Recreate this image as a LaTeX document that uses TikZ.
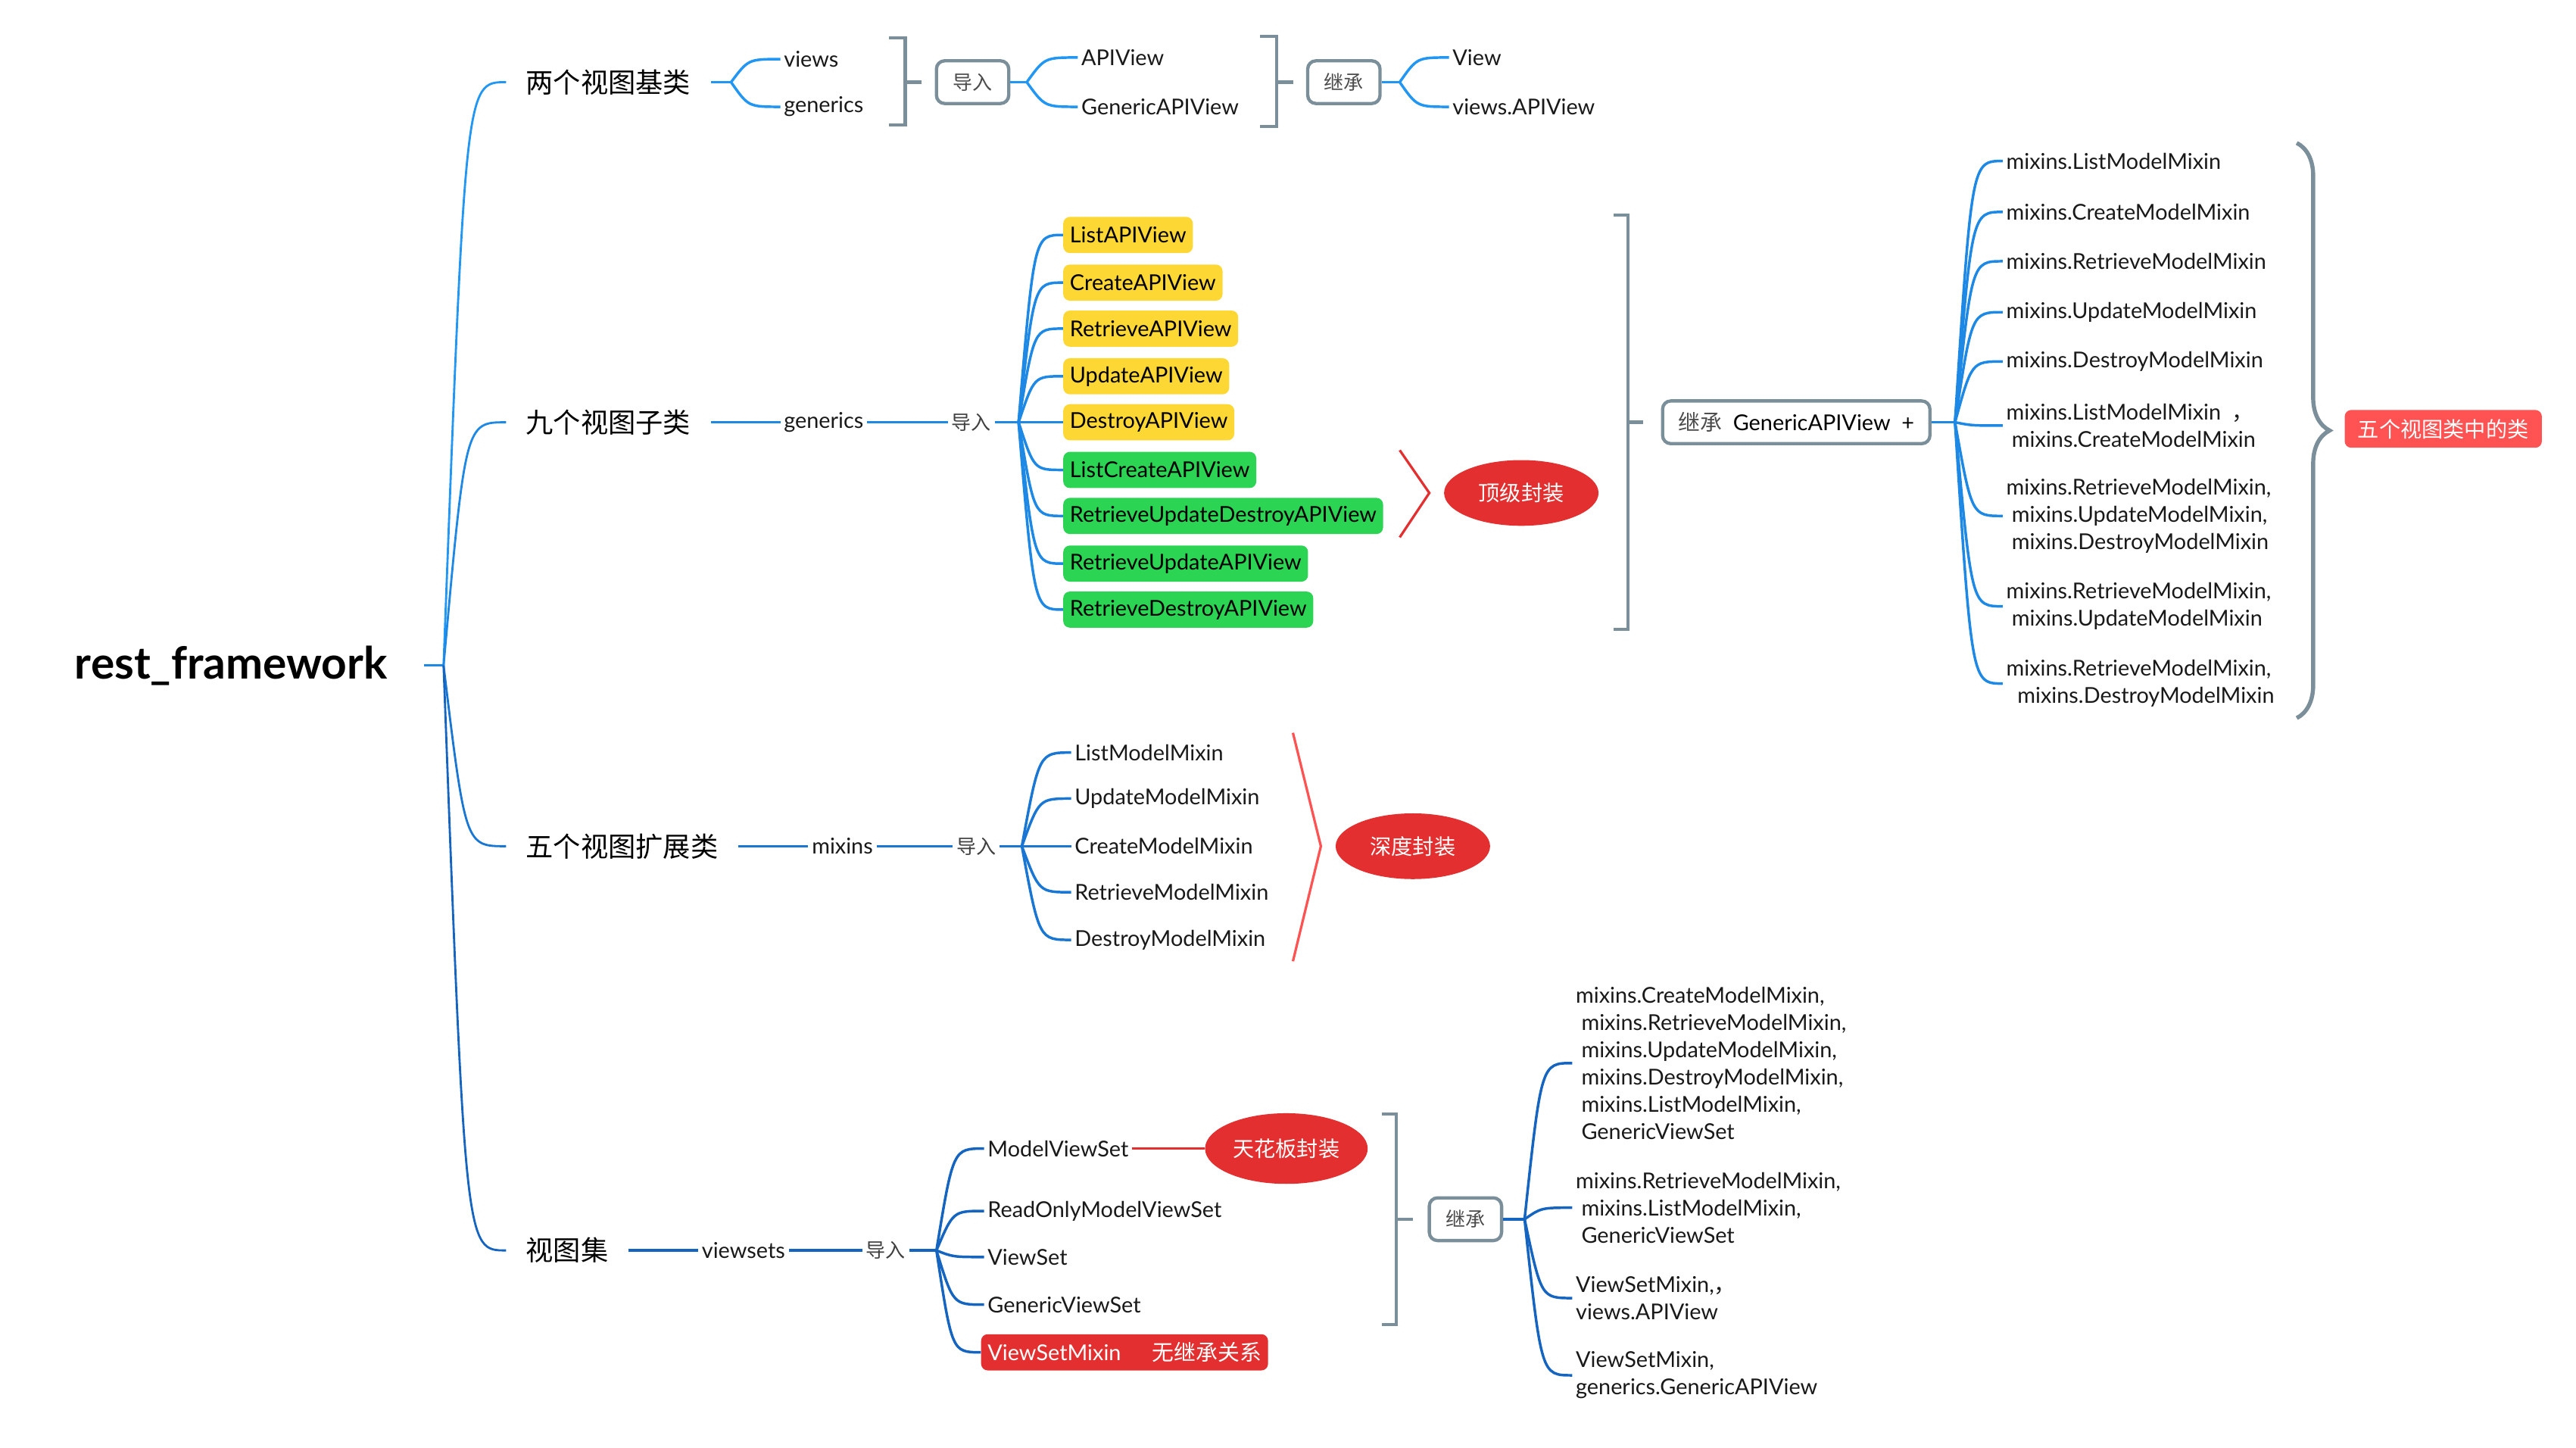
\documentclass[tikz,border=0pt]{standalone}
\usepackage{fontspec}
\setmainfont{Lato}
\newfontfamily\cjk{Noto Sans CJK SC}
\usepackage{tikz}
\usetikzlibrary{calc,shapes.geometric,decorations.pathreplacing}
\definecolor{mmblueA}{HTML}{2196F3}
\definecolor{mmblueB}{HTML}{1E88E5}
\definecolor{mmblueC}{HTML}{1976D2}
\definecolor{mmblueD}{HTML}{1565C0}
\definecolor{mmgray}{HTML}{7B8F9A}
\definecolor{mmred}{HTML}{E32F2F}
\definecolor{mmredlight}{HTML}{FF5252}
\definecolor{mmyellow}{HTML}{FDD835}
\definecolor{mmgreen}{HTML}{2BD453}
\tikzset{
  mmroot/.style={anchor=east, inner xsep=22pt, inner ysep=2pt, font=\fontsize{27}{31}\selectfont\bfseries},
  mmtopic/.style={anchor=west, inner xsep=12pt, inner ysep=2pt, font=\cjk\fontsize{16.7}{20}\selectfont},
  mmleaf/.style={anchor=west, inner xsep=2pt, inner ysep=1pt, align=left, text=black!90, font=\fontsize{13.3}{16.6}\selectfont},
  mmtag/.style={anchor=west, inner xsep=2pt, inner ysep=1pt, text=black!75, font=\cjk\fontsize{12}{14}\selectfont},
  mmbox/.style={draw=mmgray, line width=2pt, rounded corners=5pt, minimum width=44pt, minimum height=26pt, inner sep=0pt, text=black!70, font=\cjk\fontsize{12}{14}\selectfont},
  mmhl/.style={anchor=west, rounded corners=4pt, minimum height=22pt, inner xsep=4pt, inner ysep=0pt, font=\fontsize{13.3}{16}\selectfont},
  mmseal/.style={ellipse, fill=mmred, text=white, minimum width=94pt, minimum height=40pt, inner sep=0pt, font=\cjk\fontsize{13}{15}\selectfont},
  fan/.style={to path={let \p1=(\tikztostart), \p2=(\tikztotarget) in .. controls ({\x1+0.35*(\x2-\x1)},\y2) .. (\tikztotarget)}},
  mmstem/.style={line width=1.3pt},
  lineA/.style={line width=1.6pt, draw=mmblueA},
  lineB/.style={line width=1.6pt, draw=mmblueB},
  lineC/.style={line width=1.6pt, draw=mmblueC},
  lineD/.style={line width=1.6pt, draw=mmblueD},
  mmbrk/.style={draw=mmgray, line width=2pt},
  mmchev/.style={line width=1.5pt},
}
\begin{document}
\begin{tikzpicture}[x=1pt, y=-1pt]
\useasboundingbox (0,0) rectangle (1568,881);
\node[mmroot] (root) at (258,405) {rest\_framework};
\coordinate (rootj) at (270,405);
\node[mmtopic] (base) at (308,50) {两个视图基类};
\node[mmtopic] (nine) at (308,257) {九个视图子类};
\node[mmtopic] (ext) at (308,515) {五个视图扩展类};
\node[mmtopic] (vset) at (308,761) {视图集};
\draw[mmstem, draw=mmblueB] (root.east) -- (rootj);
\draw[mmstem, draw=mmblueA] (rootj) to[fan] (base.west);
\draw[mmstem, draw=mmblueB] (rootj) to[fan] (nine.west);
\draw[mmstem, draw=mmblueC] (rootj) to[fan] (ext.west);
\draw[mmstem, draw=mmblueD] (rootj) to[fan] (vset.west);

\coordinate (basej) at (445,50);
\node[mmleaf] (views) at (475,36) {views};
\node[mmleaf] (generics) at (475,65) {generics};
\draw[lineA] (base.east) -- (basej);
\draw[lineA] (basej) to[fan] (views.west);
\draw[lineA] (basej) to[fan] (generics.west);
\draw[mmbrk] (541,23) -- (551,23) -- (551,76) -- (541,76) (551,50) -- (561,50);
\node[mmbox] (imp1) at (592,50) {导入};
\coordinate (imp1j) at (625,50);
\node[mmleaf] (apiview) at (656,35) {APIView};
\node[mmleaf] (genapi) at (656,65) {GenericAPIView};
\draw[lineA] (imp1.east) -- (imp1j);
\draw[lineA] (imp1j) to[fan] (apiview.west);
\draw[lineA] (imp1j) to[fan] (genapi.west);
\draw[mmbrk] (767,22) -- (777,22) -- (777,77) -- (767,77) (777,50) -- (787,50);
\node[mmbox] (inh1) at (818,50) {继承};
\coordinate (inh1j) at (852,50);
\node[mmleaf] (view) at (882,35) {View};
\node[mmleaf] (vapi) at (882,65) {views.APIView};
\draw[lineA] (inh1.east) -- (inh1j);
\draw[lineA] (inh1j) to[fan] (view.west);
\draw[lineA] (inh1j) to[fan] (vapi.west);

\node[mmleaf] (gen2) at (475,257) {generics};
\node[mmtag] (imp2) at (577,257) {导入};
\coordinate (imp2j) at (620,257);
\draw[lineB] (nine.east) -- (gen2.west) (gen2.east) -- (imp2.west) (imp2.east) -- (imp2j);
\node[mmhl, fill=mmyellow] (listapi) at (647,143) {ListAPIView};
\node[mmhl, fill=mmyellow] (createapi) at (647,172) {CreateAPIView};
\node[mmhl, fill=mmyellow] (retrapi) at (647,200) {RetrieveAPIView};
\node[mmhl, fill=mmyellow] (updapi) at (647,229) {UpdateAPIView};
\node[mmhl, fill=mmyellow] (destapi) at (647,257) {DestroyAPIView};
\node[mmhl, fill=mmgreen] (lcapi) at (647,286) {ListCreateAPIView};
\node[mmhl, fill=mmgreen] (rudapi) at (647,314) {RetrieveUpdateDestroyAPIView};
\node[mmhl, fill=mmgreen] (ruapi) at (647,343) {RetrieveUpdateAPIView};
\node[mmhl, fill=mmgreen] (rdapi) at (647,371) {RetrieveDestroyAPIView};
\draw[lineB] (imp2j) to[fan] (listapi.west);
\draw[lineB] (imp2j) to[fan] (createapi.west);
\draw[lineB] (imp2j) to[fan] (retrapi.west);
\draw[lineB] (imp2j) to[fan] (updapi.west);
\draw[lineB] (imp2j) to[fan] (destapi.west);
\draw[lineB] (imp2j) to[fan] (lcapi.west);
\draw[lineB] (imp2j) to[fan] (rudapi.west);
\draw[lineB] (imp2j) to[fan] (ruapi.west);
\draw[lineB] (imp2j) to[fan] (rdapi.west);
\draw[mmchev, draw=mmred] (852,274) -- (870,300) -- (852,327);
\node[mmseal] (topseal) at (926,300) {顶级封装};
\draw[mmbrk] (982,131) -- (991,131) -- (991,383) -- (982,383) (991,257) -- (1000,257);
\node[mmbox, anchor=west, inner xsep=9.5pt, text=black, font=\fontsize{13.3}{15}\selectfont] (inh2) at (1011,257) {{\cjk\color{black!70}继承}\ \ GenericAPIView\ \ +};
\coordinate (inh2j) at (1190,257);
\node[mmleaf] (mixA) at (1219,98) {mixins.ListModelMixin};
\node[mmleaf] (mixB) at (1219,129) {mixins.CreateModelMixin};
\node[mmleaf] (mixC) at (1219,159) {mixins.RetrieveModelMixin};
\node[mmleaf] (mixD) at (1219,190) {mixins.UpdateModelMixin};
\node[mmleaf] (mixE) at (1219,220) {mixins.DestroyModelMixin};
\node[mmleaf] (mixF) at (1219,259) {mixins.ListModelMixin\ \ {\cjk ，}\\\ mixins.CreateModelMixin};
\node[mmleaf] (mixG) at (1219,314) {mixins.RetrieveModelMixin,\\\ mixins.UpdateModelMixin,\\\ mixins.DestroyModelMixin};
\node[mmleaf] (mixH) at (1219,369) {mixins.RetrieveModelMixin,\\\ mixins.UpdateModelMixin};
\node[mmleaf] (mixI) at (1219,416) {mixins.RetrieveModelMixin,\\\ \ mixins.DestroyModelMixin};
\draw[lineB] (inh2.east) -- (inh2j);
\draw[lineB] (inh2j) to[fan] (mixA.west);
\draw[lineB] (inh2j) to[fan] (mixB.west);
\draw[lineB] (inh2j) to[fan] (mixC.west);
\draw[lineB] (inh2j) to[fan] (mixD.west);
\draw[lineB] (inh2j) to[fan] (mixE.west);
\draw[lineB] (inh2j) to[fan] (mixF.west);
\draw[lineB] (inh2j) to[fan] (mixG.west);
\draw[lineB] (inh2j) to[fan] (mixH.west);
\draw[lineB] (inh2j) to[fan] (mixI.west);
\draw[mmgray, line width=2.5pt, decorate, decoration={brace, amplitude=20pt}] (1398,87) -- (1398,437);
\node[mmhl, fill=mmredlight, text=white, minimum height=23pt, inner xsep=8pt, font=\cjk\fontsize{13}{15}\selectfont] (fivecls) at (1427,261) {五个视图类中的类};

\node[mmleaf] (mix3) at (492,515) {mixins};
\node[mmtag] (imp3) at (580,515) {导入};
\coordinate (imp3j) at (622,515);
\draw[lineC] (ext.east) -- (mix3.west) (mix3.east) -- (imp3.west) (imp3.east) -- (imp3j);
\node[mmleaf] (lmm) at (652,458) {ListModelMixin};
\node[mmleaf] (umm) at (652,486) {UpdateModelMixin};
\node[mmleaf] (cmm) at (652,515) {CreateModelMixin};
\node[mmleaf] (rmm) at (652,543) {RetrieveModelMixin};
\node[mmleaf] (dmm) at (652,572) {DestroyModelMixin};
\draw[lineC] (imp3j) to[fan] (lmm.west);
\draw[lineC] (imp3j) to[fan] (umm.west);
\draw[lineC] (imp3j) to[fan] (cmm.west);
\draw[lineC] (imp3j) to[fan] (rmm.west);
\draw[lineC] (imp3j) to[fan] (dmm.west);
\draw[mmchev, draw=mmredlight] (787,446) -- (804,515) -- (787,585);
\node[mmseal] (deepseal) at (860,515) {深度封装};

\node[mmleaf] (vs4) at (425,761) {viewsets};
\node[mmtag] (imp4) at (525,761) {导入};
\coordinate (imp4j) at (570,761);
\draw[lineD] (vset.east) -- (vs4.west) (vs4.east) -- (imp4.west) (imp4.east) -- (imp4j);
\node[mmleaf] (mvs) at (599,699) {ModelViewSet};
\node[mmleaf] (romvs) at (599,737) {ReadOnlyModelViewSet};
\node[mmleaf] (vsv) at (599,765) {ViewSet};
\node[mmleaf] (gvs) at (599,794) {GenericViewSet};
\node[mmhl, fill=mmred, text=white] (vsmix) at (597,823) {ViewSetMixin\hspace{19pt}{\cjk 无继承关系}};
\draw[lineD] (imp4j) to[fan] (mvs.west);
\draw[lineD] (imp4j) to[fan] (romvs.west);
\draw[lineD] (imp4j) to[fan] (vsv.west);
\draw[lineD] (imp4j) to[fan] (gvs.west);
\draw[lineD] (imp4j) to[fan] (vsmix.west);
\node[mmseal, minimum width=99pt, minimum height=43pt] (ceilseal) at (783,699) {天花板封装};
\draw[line width=1.6pt, draw=mmred] (mvs.east) -- (ceilseal.west);
\draw[mmbrk] (841,678) -- (850,678) -- (850,806) -- (841,806) (850,742) -- (860,742);
\node[mmbox] (inh3) at (892,742) {继承};
\coordinate (inh3j) at (928,742);
\node[mmleaf] (setA) at (957,647) {mixins.CreateModelMixin,\\\ mixins.RetrieveModelMixin,\\\ mixins.UpdateModelMixin,\\\ mixins.DestroyModelMixin,\\\ mixins.ListModelMixin,\\\ GenericViewSet};
\node[mmleaf] (setB) at (957,735) {mixins.RetrieveModelMixin,\\\ mixins.ListModelMixin,\\\ GenericViewSet};
\node[mmleaf] (setC) at (957,790) {ViewSetMixin,{\cjk ，}\\views.APIView};
\node[mmleaf] (setD) at (957,837) {ViewSetMixin,\\generics.GenericAPIView};
\draw[lineD] (inh3.east) -- (inh3j);
\draw[lineD] (inh3j) to[fan] (setA.west);
\draw[lineD] (inh3j) to[fan] (setB.west);
\draw[lineD] (inh3j) to[fan] (setC.west);
\draw[lineD] (inh3j) to[fan] (setD.west);
\end{tikzpicture}
\end{document}
